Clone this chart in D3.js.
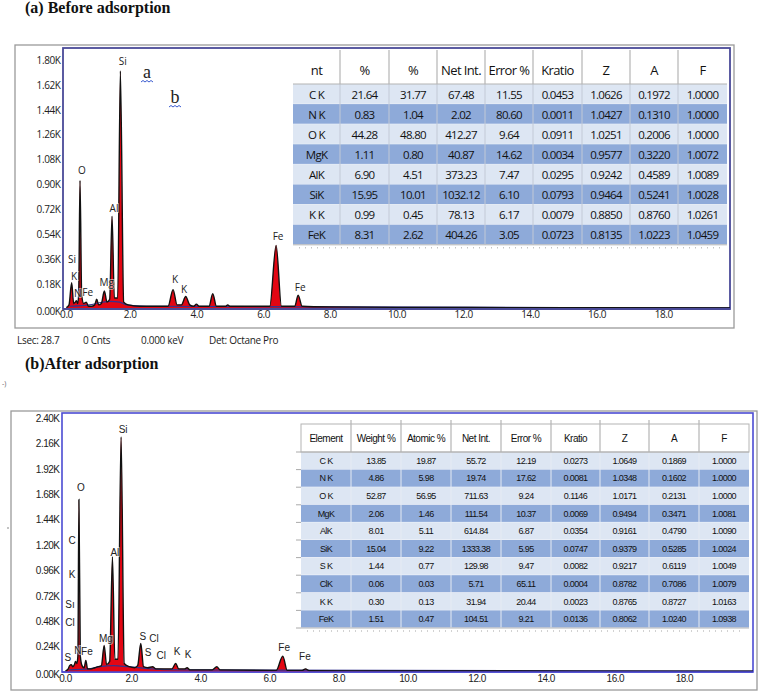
<!DOCTYPE html>
<html><head><meta charset="utf-8">
<script src="https://cdn.jsdelivr.net/npm/d3@7"></script>
<style>body{margin:0;background:#fff}svg{display:block}</style>
</head><body>
<svg id="c" width="758" height="692"></svg>
<script>
// ---------------- DATA ----------------
const energyTicks = [0, 2, 4, 6, 8, 10, 12, 14, 16, 18];
const countTicksA = [0, 0.18, 0.36, 0.54, 0.72, 0.90, 1.08, 1.26, 1.44, 1.62, 1.80];
const countTicksB = [0, 0.24, 0.48, 0.72, 0.96, 1.20, 1.44, 1.68, 1.92, 2.16, 2.40];

// spectrum (a) — [keV, K counts]
const spectrumA = [
  [0.10,0.01],[0.18,0.03],[0.26,0.19],[0.32,0.04],[0.37,0.05],[0.40,0.06],[0.44,0.04],
  [0.47,0.10],[0.51,0.93],[0.56,0.10],[0.62,0.04],[0.70,0.05],[0.76,0.02],[0.85,0.02],
  [0.95,0.03],[1.01,0.07],[1.07,0.03],[1.15,0.04],[1.24,0.13],[1.32,0.05],[1.40,0.07],
  [1.47,0.67],[1.54,0.08],[1.64,0.08],[1.72,1.72],[1.82,0.05],[1.95,0.03],[2.30,0.02],
  [2.80,0.02],[3.15,0.02],[3.30,0.14],[3.42,0.03],[3.55,0.03],[3.68,0.09],[3.80,0.03],
  [3.92,0.02],[4.00,0.035],[4.08,0.02],[4.38,0.02],[4.49,0.11],[4.60,0.02],[4.88,0.02],
  [4.94,0.03],[5.00,0.02],[6.20,0.02],[6.39,0.46],[6.55,0.02],[6.95,0.02],[7.05,0.10],
  [7.17,0.02],[8.00,0.015],[10.0,0.012],[14.0,0.01],[20.0,0.008]
];
const backgroundA = [[0.2,0.02],[0.8,0.03],[1.1,0.045],[1.4,0.055],[1.7,0.05],[1.9,0.03],[2.5,0.02],[20,0.008]];

// spectrum (b) — [keV, K counts]
const spectrumB = [
  [0.10,0.01],[0.18,0.03],[0.22,0.06],[0.27,0.07],[0.31,0.05],[0.36,0.07],[0.39,0.10],
  [0.43,0.08],[0.46,0.15],[0.49,1.63],[0.53,0.15],[0.58,0.06],[0.64,0.04],[0.69,0.11],
  [0.74,0.03],[0.85,0.03],[0.95,0.04],[1.05,0.05],[1.14,0.06],[1.22,0.25],[1.29,0.07],
  [1.38,0.10],[1.46,1.09],[1.53,0.12],[1.62,0.12],[1.71,2.22],[1.80,0.08],[1.95,0.05],
  [2.10,0.04],[2.19,0.06],[2.28,0.27],[2.36,0.05],[2.48,0.04],[2.62,0.05],[2.72,0.03],
  [3.00,0.03],[3.18,0.03],[3.29,0.08],[3.38,0.03],[3.55,0.03],[3.62,0.04],[3.70,0.02],
  [4.35,0.02],[4.48,0.05],[4.58,0.02],[6.20,0.015],[6.39,0.15],[6.52,0.015],[6.95,0.015],
  [7.05,0.03],[7.15,0.012],[10.0,0.01],[20.0,0.008]
];
const backgroundB = [[0.2,0.02],[0.8,0.03],[1.1,0.05],[1.5,0.06],[1.9,0.05],[2.4,0.035],[3.5,0.02],[20,0.008]];

// peak labels: [text, keV, K counts]
const peakLabelsA = [
  ["Si",1.79,1.795],["O",0.57,1.005],["Al",1.53,0.73],["Si",0.27,0.36],["K",0.33,0.24],
  ["N",0.44,0.115],["Fe",0.74,0.123],["Mg",1.31,0.195],["K",3.36,0.217],["K",3.63,0.145],
  ["Fe",6.45,0.528],["Fe",7.11,0.159]
];
const peakLabelsB = [
  ["Si",1.77,2.29],["O",0.55,1.74],["C",0.29,1.24],["K",0.29,0.92],["Sı",0.23,0.64],
  ["Cl",0.23,0.47],["Al",1.53,1.13],["Mg",1.27,0.32],["S",2.34,0.34],["Cl",2.66,0.32],
  ["S",2.49,0.18],["Cl",2.87,0.16],["K",3.33,0.19],["K",3.65,0.17],["S",0.17,0.14],
  ["N",0.46,0.20],["Fe",0.72,0.19],["Fe",6.43,0.23],["Fe",7.03,0.15]
];

const tableHeadA = ["nt","%","%","Net Int.","Error %","Kratio","Z","A","F"];
const tableRowsA = [
  ["C K","21.64","31.77","67.48","11.55","0.0453","1.0626","0.1972","1.0000"],
  ["N K","0.83","1.04","2.02","80.60","0.0011","1.0427","0.1310","1.0000"],
  ["O K","44.28","48.80","412.27","9.64","0.0911","1.0251","0.2006","1.0000"],
  ["MgK","1.11","0.80","40.87","14.62","0.0034","0.9577","0.3220","1.0072"],
  ["AlK","6.90","4.51","373.23","7.47","0.0295","0.9242","0.4589","1.0089"],
  ["SiK","15.95","10.01","1032.12","6.10","0.0793","0.9464","0.5241","1.0028"],
  ["K K","0.99","0.45","78.13","6.17","0.0079","0.8850","0.8760","1.0261"],
  ["FeK","8.31","2.62","404.26","3.05","0.0723","0.8135","1.0223","1.0459"]
];
const tableHeadB = ["Element","Weight %","Atomic %","Net Int.","Error %","Kratio","Z","A","F"];
const tableRowsB = [
  ["C K","13.85","19.87","55.72","12.19","0.0273","1.0649","0.1869","1.0000"],
  ["N K","4.86","5.98","19.74","17.62","0.0081","1.0348","0.1602","1.0000"],
  ["O K","52.87","56.95","711.63","9.24","0.1146","1.0171","0.2131","1.0000"],
  ["MgK","2.06","1.46","111.54","10.37","0.0069","0.9494","0.3471","1.0081"],
  ["AlK","8.01","5.11","614.84","6.87","0.0354","0.9161","0.4790","1.0090"],
  ["SiK","15.04","9.22","1333.38","5.95","0.0747","0.9379","0.5285","1.0024"],
  ["S K","1.44","0.77","129.98","9.47","0.0082","0.9217","0.6119","1.0049"],
  ["ClK","0.06","0.03","5.71","65.11","0.0004","0.8782","0.7086","1.0079"],
  ["K K","0.30","0.13","31.94","20.44","0.0023","0.8765","0.8727","1.0163"],
  ["FeK","1.51","0.47","104.51","9.21","0.0136","0.8062","1.0240","1.0938"]
];
const infoLine = [["Lsec: 28.7",17],["0 Cnts",83],["0.000 keV",141],["Det: Octane Pro",209]];

// ---------------- DRAW ----------------
const svg = d3.select("#c");
const LIGHT = "#dde6f3", DARK = "#8eaad9";

function panel(cfg) {
  const g = svg.append("g");
  g.append("rect").attr("x", cfg.outer[0]).attr("y", cfg.outer[1])
    .attr("width", cfg.outer[2]).attr("height", cfg.outer[3])
    .attr("fill", "#fff").attr("stroke", "#9a9a9a").attr("stroke-width", 1.3);

  const x = d3.scaleLinear().domain([0, 20]).range([cfg.x0, cfg.x1]);
  const y = d3.scaleLinear().domain([0, cfg.ymax]).range([cfg.y0, cfg.y1]);

  // plot frame
  g.append("rect").attr("x", cfg.x0).attr("y", cfg.top)
    .attr("width", cfg.x1 - cfg.x0).attr("height", cfg.y0 - cfg.top)
    .attr("fill", "#fff").attr("stroke", cfg.frame).attr("stroke-width", cfg.frameW);

  // spectrum
  const area = d3.area().x(d => x(d[0])).y0(y(0)).y1(d => y(d[1])).curve(d3.curveMonotoneX);
  const line = d3.line().x(d => x(d[0])).y(d => y(d[1])).curve(d3.curveMonotoneX);
  g.append("path").datum(cfg.spec).attr("d", area).attr("fill", "#e30613");
  g.append("path").datum(cfg.bg).attr("d", line).attr("fill", "none")
    .attr("stroke", "#33338f").attr("stroke-width", 1.2);
  g.append("path").datum(cfg.spec).attr("d", line).attr("fill", "none")
    .attr("stroke", "#111").attr("stroke-width", 1.4);
  g.append("line").attr("x1", cfg.x0).attr("x2", cfg.x1).attr("y1", cfg.y0).attr("y2", cfg.y0)
    .attr("stroke", cfg.frame).attr("stroke-width", cfg.frameW);

  // axes
  const yAxis = d3.axisLeft(y).tickValues(cfg.yticks).tickSize(0).tickPadding(2)
    .tickFormat(d => d.toFixed(2) + "K");
  const ya = g.append("g").attr("transform", `translate(${cfg.x0 - 0.5},0)`).call(yAxis);
  ya.select(".domain").remove();
  ya.selectAll("text").attr("font-family", cfg.axisFont).attr("font-size", 10)
    .attr("fill", "#222").attr("letter-spacing", cfg.ls).attr("dy", cfg.ydy);
  ya.selectAll(".tick").filter(d => d === 0).select("text").attr("dy", "0.5em");

  const xAxis = d3.axisBottom(x).tickValues(energyTicks).tickSize(0).tickPadding(0)
    .tickFormat(d => d.toFixed(1));
  const xa = g.append("g").attr("transform", `translate(0,${cfg.xlabY})`).call(xAxis);
  xa.select(".domain").remove();
  xa.selectAll("text").attr("font-family", cfg.axisFont).attr("font-size", 10)
    .attr("fill", "#222").attr("letter-spacing", cfg.ls);
  xa.selectAll(".tick").filter(d => d === 0).select("text").attr("dx", "3");

  // peak labels
  const lg = g.append("g");
  cfg.labels.forEach(l => {
    lg.append("text").attr("x", x(l[1])).attr("y", y(l[2]))
      .attr("text-anchor", "middle").attr("dominant-baseline", "central")
      .attr("font-family", cfg.axisFont).attr("font-size", 10).attr("fill", "#222")
      .attr("stroke", "rgba(255,255,255,0.55)").attr("stroke-width", 2).attr("paint-order", "stroke")
      .text(l[0]);
  });
  return {g, x, y};
}

function table(cfg) {
  const g = svg.append("g");
  const e = cfg.edges;
  const W = e[e.length - 1] - e[0];
  g.append("rect").attr("x", e[0]).attr("y", cfg.headTop).attr("width", W)
    .attr("height", cfg.headBot - cfg.headTop).attr("fill", "#fff");
  cfg.rows.forEach((r, i) => {
    const yy = cfg.headBot + i * cfg.rowH;
    g.append("rect").attr("x", e[0]).attr("y", yy).attr("width", W).attr("height", cfg.rowH)
      .attr("fill", i % 2 ? DARK : LIGHT);
    g.append("line").attr("x1", e[0]).attr("x2", e[e.length-1]).attr("y1", yy + cfg.rowH).attr("y2", yy + cfg.rowH)
      .attr("stroke", cfg.rowLine).attr("stroke-width", 1);
    r.forEach((t, j) => {
      g.append("text").attr("x", (e[j] + e[j+1]) / 2).attr("y", yy + cfg.rowH / 2)
        .attr("text-anchor", "middle").attr("dominant-baseline", "central")
        .attr("font-family", cfg.font).attr("font-size", cfg.cellSize)
        .attr("letter-spacing", cfg.cellLs).attr("fill", "#111").text(t);
    });
  });
  const bottom = cfg.headBot + cfg.rows.length * cfg.rowH;
  e.forEach((xx, j) => {
    if (j > 0 && j < e.length - 1) {
      g.append("line").attr("x1", xx).attr("x2", xx).attr("y1", cfg.vTop).attr("y2", cfg.headBot)
        .attr("stroke", "#b4b4b4").attr("stroke-width", 1.2);
      g.append("line").attr("x1", xx).attr("x2", xx).attr("y1", cfg.headBot).attr("y2", bottom)
        .attr("stroke", cfg.vLine).attr("stroke-width", 1);
    }
  });
  if (cfg.boxHeader) {
    g.append("rect").attr("x", e[0]).attr("y", cfg.headTop).attr("width", W)
      .attr("height", cfg.headBot - cfg.headTop).attr("fill", "none").attr("stroke", "#b4b4b4");
    // short row ticks on left edge
    for (let i = 0; i <= cfg.rows.length; i++) {
      const yy = cfg.headBot + i * cfg.rowH;
      g.append("line").attr("x1", e[0] - 5).attr("x2", e[0]).attr("y1", yy).attr("y2", yy)
        .attr("stroke", "#aaa").attr("stroke-width", 1);
    }
  }
  g.append("line").attr("x1", e[0]).attr("x2", e[e.length-1]).attr("y1", cfg.headBot).attr("y2", cfg.headBot)
    .attr("stroke", "#b4b4b4").attr("stroke-width", 1.2);
  g.append("line").attr("x1", e[0]).attr("x2", e[e.length-1]).attr("y1", bottom).attr("y2", bottom)
    .attr("stroke", "#b8b8b8").attr("stroke-width", 1);
  g.append("line").attr("x1", e[0] + 6).attr("x2", e[e.length-1] - 6).attr("y1", bottom + 3).attr("y2", bottom + 3)
    .attr("stroke", "#c4c4c4").attr("stroke-width", 1.5).attr("stroke-dasharray", "1,5");
  cfg.head.forEach((t, j) => {
    g.append("text").attr("x", (e[j] + e[j+1]) / 2).attr("y", (cfg.headTop + cfg.headBot) / 2)
      .attr("text-anchor", "middle").attr("dominant-baseline", "central")
      .attr("font-family", cfg.font).attr("font-size", cfg.headSize)
      .attr("letter-spacing", cfg.headLs).attr("fill", "#111").text(t);
  });
  return g;
}

// Titles
svg.append("text").attr("x", 25).attr("y", 13).attr("font-family", "Liberation Serif")
  .attr("font-weight", "bold").attr("font-size", 16).attr("fill", "#111").text("(a) Before adsorption");
svg.append("text").attr("x", 25).attr("y", 369).attr("font-family", "Liberation Serif")
  .attr("font-weight", "bold").attr("font-size", 16).attr("fill", "#111").text("(b)After adsorption");

// Panel A
panel({
  outer: [15, 45, 719, 283], x0: 63, x1: 730, top: 48, y0: 309, y1: 60, ymax: 1.8,
  yticks: countTicksA, frame: "#4a4a98", frameW: 1.8, axisFont: "Open Sans", ls: -0.4, ydy: "0.32em",
  xlabY: 311, spec: spectrumA, bg: backgroundA, labels: peakLabelsA
});
table({
  edges: [293, 340, 389, 437, 485, 533, 582, 630, 678, 727],
  headTop: 55, headBot: 84, vTop: 50, rowH: 20.1, rows: tableRowsA, head: tableHeadA,
  font: "Open Sans", headSize: 13, headLs: -0.6, cellSize: 11.5, cellLs: -0.7,
  rowLine: "#eef2f8", vLine: "#c2c9d6", boxHeader: false
});
[["a", 147, 78], ["b", 175, 103]].forEach(d => {
  svg.append("text").attr("x", d[1]).attr("y", d[2]).attr("text-anchor", "middle")
    .attr("font-family", "Liberation Serif").attr("font-size", 18).attr("fill", "#222").text(d[0]);
  const p = d3.path();
  p.moveTo(d[1] - 6, d[2] + 4);
  for (let k = 0; k < 6; k++) p.lineTo(d[1] - 6 + (k + 1) * 2, d[2] + (k % 2 ? 4 : 2.5));
  svg.append("path").attr("d", p.toString()).attr("fill", "none").attr("stroke", "#3a5bd0").attr("stroke-width", 1);
});
infoLine.forEach(d => {
  svg.append("text").attr("x", d[1]).attr("y", 344).attr("font-family", "Open Sans")
    .attr("font-size", 10).attr("letter-spacing", -0.3).attr("fill", "#222").text(d[0]);
});

// Panel B
panel({
  outer: [11, 411, 746, 279], x0: 62, x1: 753, top: 413, y0: 672, y1: 418, ymax: 2.4,
  yticks: countTicksB, frame: "#4b4bd3", frameW: 1.6, axisFont: "Liberation Sans", ls: -0.5, ydy: "0.32em",
  xlabY: 675, spec: spectrumB, bg: backgroundB, labels: peakLabelsB
});
table({
  edges: [301, 351, 401, 451, 501, 551, 600, 649, 699, 749],
  headTop: 424, headBot: 452, vTop: 420, rowH: 17.6, rows: tableRowsB, head: tableHeadB,
  font: "Liberation Sans", headSize: 10, headLs: -0.5, cellSize: 9, cellLs: -0.6,
  rowLine: "#f4f6fa", vLine: "#e6ebf3", boxHeader: true
});
svg.append("text").attr("x", 2).attr("y", 386).attr("font-family", "Open Sans").attr("font-size", 7).attr("fill", "#666").text("-)");
svg.append("circle").attr("cx", 8).attr("cy", 528).attr("r", 0.8).attr("fill", "#777");
</script>
</body></html>
